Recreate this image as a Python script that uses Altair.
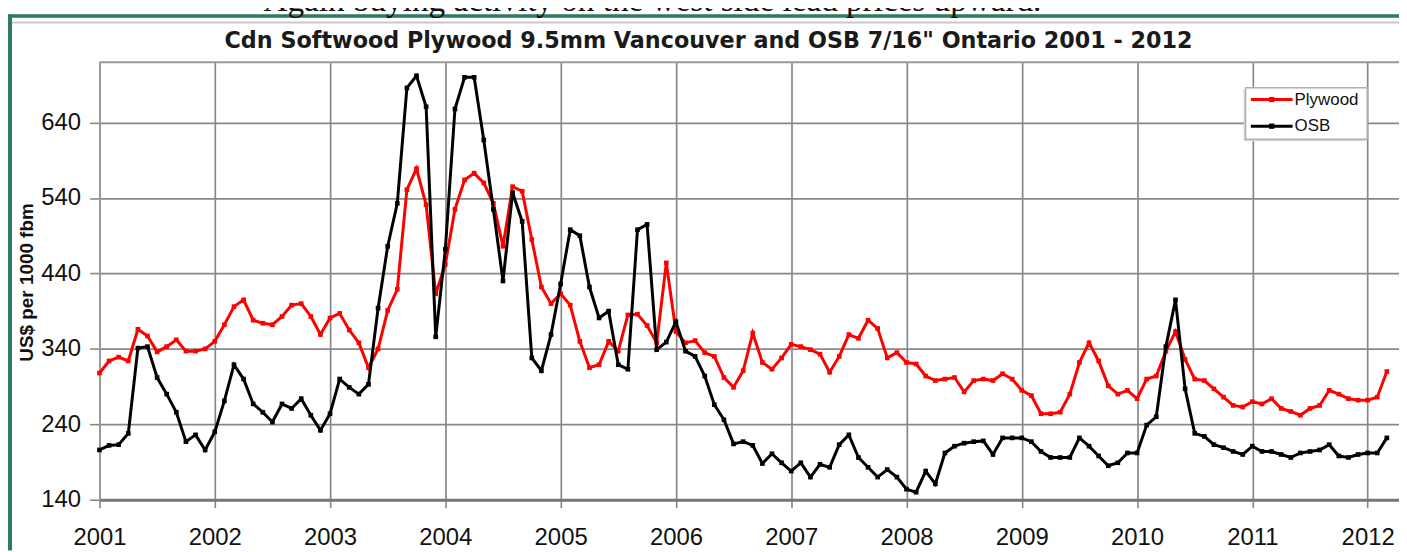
import altair as alt
import pandas as pd

# ---------------- data ----------------
start_year = 2001
n_months = 135  # Jan 2001 .. Mar 2012

plywood = [308, 324, 329, 324, 366, 357, 336, 343, 352, 337, 337, 340,
           350, 372, 396, 405, 378, 374, 372, 383, 398, 400, 383, 359,
           381, 387, 365, 348, 315, 340, 391, 419, 551, 579, 531, 413,
           452, 525, 564, 573, 560, 533, 476, 555, 549, 485, 422, 400,
           413, 398, 350, 315, 319, 350, 337, 385, 386, 371, 348, 454,
           363, 348, 351, 335, 330, 302, 289, 311, 361, 322, 313, 328,
           346, 343, 339, 333, 309, 330, 359, 354, 378, 367, 328, 335,
           322, 320, 304, 298, 300, 302, 283, 298, 300, 298, 307, 300,
           285, 278, 254, 254, 256, 280, 322, 348, 324, 291, 280, 285,
           274, 300, 304, 337, 363, 326, 300, 298, 287, 276, 265, 263,
           270, 267, 274, 261, 257, 252, 261, 265, 285, 280, 274, 272,
           272, 276, 310]

osb = [206, 212, 213, 228, 341, 343, 302, 280, 256, 217, 226, 206,
       230, 271, 319, 300, 267, 256, 243, 267, 261, 274, 252, 232,
       254, 300, 289, 280, 293, 394, 476, 533, 686, 702, 661, 356,
       472, 658, 700, 700, 617, 525, 430, 547, 509, 328, 311, 359,
       426, 498, 490, 422, 381, 390, 319, 313, 498, 505, 339, 349,
       376, 337, 330, 304, 266, 246, 214, 217, 212, 188, 201, 189,
       178, 189, 170, 187, 183, 213, 226, 196, 183, 170, 180, 170,
       154, 150, 178, 161, 202, 211, 215, 217, 218, 200, 222, 222,
       222, 217, 204, 196, 196, 196, 222, 211, 198, 185, 189, 202,
       202, 239, 250, 343, 405, 287, 228, 224, 213, 209, 204, 200,
       211, 204, 204, 200, 196, 202, 204, 206, 213, 198, 196, 200,
       202, 202, 222]

series_names = ["Plywood", "OSB"]
series_colors = ["#ff0000", "#000000"]
year_ticks = list(range(2001, 2013))
y_ticks = [140, 240, 340, 440, 540, 640]

chart_title = 'Cdn Softwood Plywood 9.5mm Vancouver and OSB 7/16" Ontario 2001 - 2012'
page_text = "Again buying activity on the west side lead prices upward."
y_title = "US$ per 1000 fbm"

# ---------------- table ----------------
dates = [start_year + m / 12 for m in range(n_months)]
df = pd.DataFrame({
    "date": dates * 2,
    "price": plywood + osb,
    "series": ["Plywood"] * n_months + ["OSB"] * n_months,
})
one = pd.DataFrame({"k": [0]})

W, H = 1307, 440
GRID = "#888888"
FONT = "Liberation Sans"
TXT = "#111111"

x_enc = alt.X("date:Q",
              scale=alt.Scale(domain=[2001, 2012.272], nice=False, zero=False),
              axis=alt.Axis(values=year_ticks, format="d", grid=True, title=None,
                            labelFlush=False, labelFont=FONT, labelFontSize=24,
                            labelColor=TXT, labelPadding=18, tickSize=8,
                            tickColor=GRID, tickWidth=1.6, domainColor="#777777",
                            domainWidth=2.8, gridColor=GRID, gridWidth=1.7))
y_enc = alt.Y("price:Q",
              scale=alt.Scale(domain=[140, 720], nice=False, zero=False),
              axis=alt.Axis(values=y_ticks, grid=True, title=y_title,
                            labelFont=FONT, labelFontSize=24, labelColor=TXT,
                            labelPadding=9, tickSize=10, tickColor=GRID, tickWidth=1.6,
                            domainColor="#999999", domainWidth=2, gridColor=GRID,
                            gridWidth=1.7, titleFont=FONT, titleFontSize=19,
                            titleFontWeight="bold", titleColor=TXT,
                            titleX=-67, titleY=221, titleAngle=270,
                            titleAlign="center", titleBaseline="alphabetic"))
color_enc = alt.Color("series:N", scale=alt.Scale(domain=series_names, range=series_colors),
                      legend=None)

layers = []

# page decorations (green frame, grey frame line)
deco = alt.Chart(one)
layers.append(deco.mark_rule(color="#2e7a5b", strokeWidth=4).encode(
    x=alt.value(-90), y=alt.value(-48), y2=alt.value(491)))
layers.append(deco.mark_rule(color="#2e7a5b", strokeWidth=3.5).encode(
    x=alt.value(-92), x2=alt.value(W + 10), y=alt.value(-46.5)))
layers.append(deco.mark_rule(color="#c8c8c8", strokeWidth=2).encode(
    x=alt.value(-88), x2=alt.value(W + 10), y=alt.value(-40)))
# plot top border
layers.append(deco.mark_rule(color="#999999", strokeWidth=2).encode(
    x=alt.value(0), x2=alt.value(W + 10), y=alt.value(0)))

for name in series_names:
    base = alt.Chart(df).transform_filter(alt.datum.series == name)
    layers.append(base.mark_line(strokeWidth=3).encode(x=x_enc, y=y_enc, color=color_enc))
    layers.append(base.mark_point(filled=True, shape="square", size=22, opacity=1).encode(
        x=x_enc, y=y_enc, color=color_enc))

# legend
lx0, lx1, ly0, ly1 = 1152.7, 1275, 25.7, 77.5
layers.append(deco.mark_rect(fill="#d8d8d8").encode(
    x=alt.value(lx0 - 2), x2=alt.value(lx1 - 2), y=alt.value(ly0 + 2), y2=alt.value(ly1 + 2)))
layers.append(deco.mark_rect(fill="white", stroke="#b0b0b0", strokeWidth=1.5).encode(
    x=alt.value(lx0), x2=alt.value(lx1), y=alt.value(ly0), y2=alt.value(ly1)))
for i, (name, col) in enumerate(zip(series_names, series_colors)):
    yy = 37.5 + i * 26.8
    layers.append(deco.mark_rule(color=col, strokeWidth=3).encode(
        x=alt.value(1158), x2=alt.value(1200), y=alt.value(yy)))
    layers.append(deco.mark_point(filled=True, shape="square", size=28, color=col, opacity=1).encode(
        x=alt.value(1179), y=alt.value(yy)))
    layers.append(deco.mark_text(text=name, font=FONT, fontSize=17, align="left",
                                 baseline="middle", color=TXT).encode(
        x=alt.value(1202), y=alt.value(yy)))

# chart title and page text
layers.append(deco.mark_text(text=chart_title, font="DejaVu Sans", fontSize=22.4,
                             fontWeight="bold", align="center", baseline="alphabetic",
                             color="#1a1a1a").encode(x=alt.value(612.5), y=alt.value(-14)))
layers.append(deco.mark_text(text=page_text, font="Liberation Serif", fontSize=33.4,
                             align="left", baseline="alphabetic", color="#111111").encode(
    x=alt.value(165), y=alt.value(-52)))

chart = alt.layer(*layers).properties(
    width=W, height=H,
    autosize=alt.AutoSizeParams(type="none"),
    padding={"left": 92, "top": 53, "right": 0, "bottom": 51},
    background="white",
).configure_view(strokeOpacity=0)

chart.save("out.html", embed_options={"renderer": "svg", "actions": False})
